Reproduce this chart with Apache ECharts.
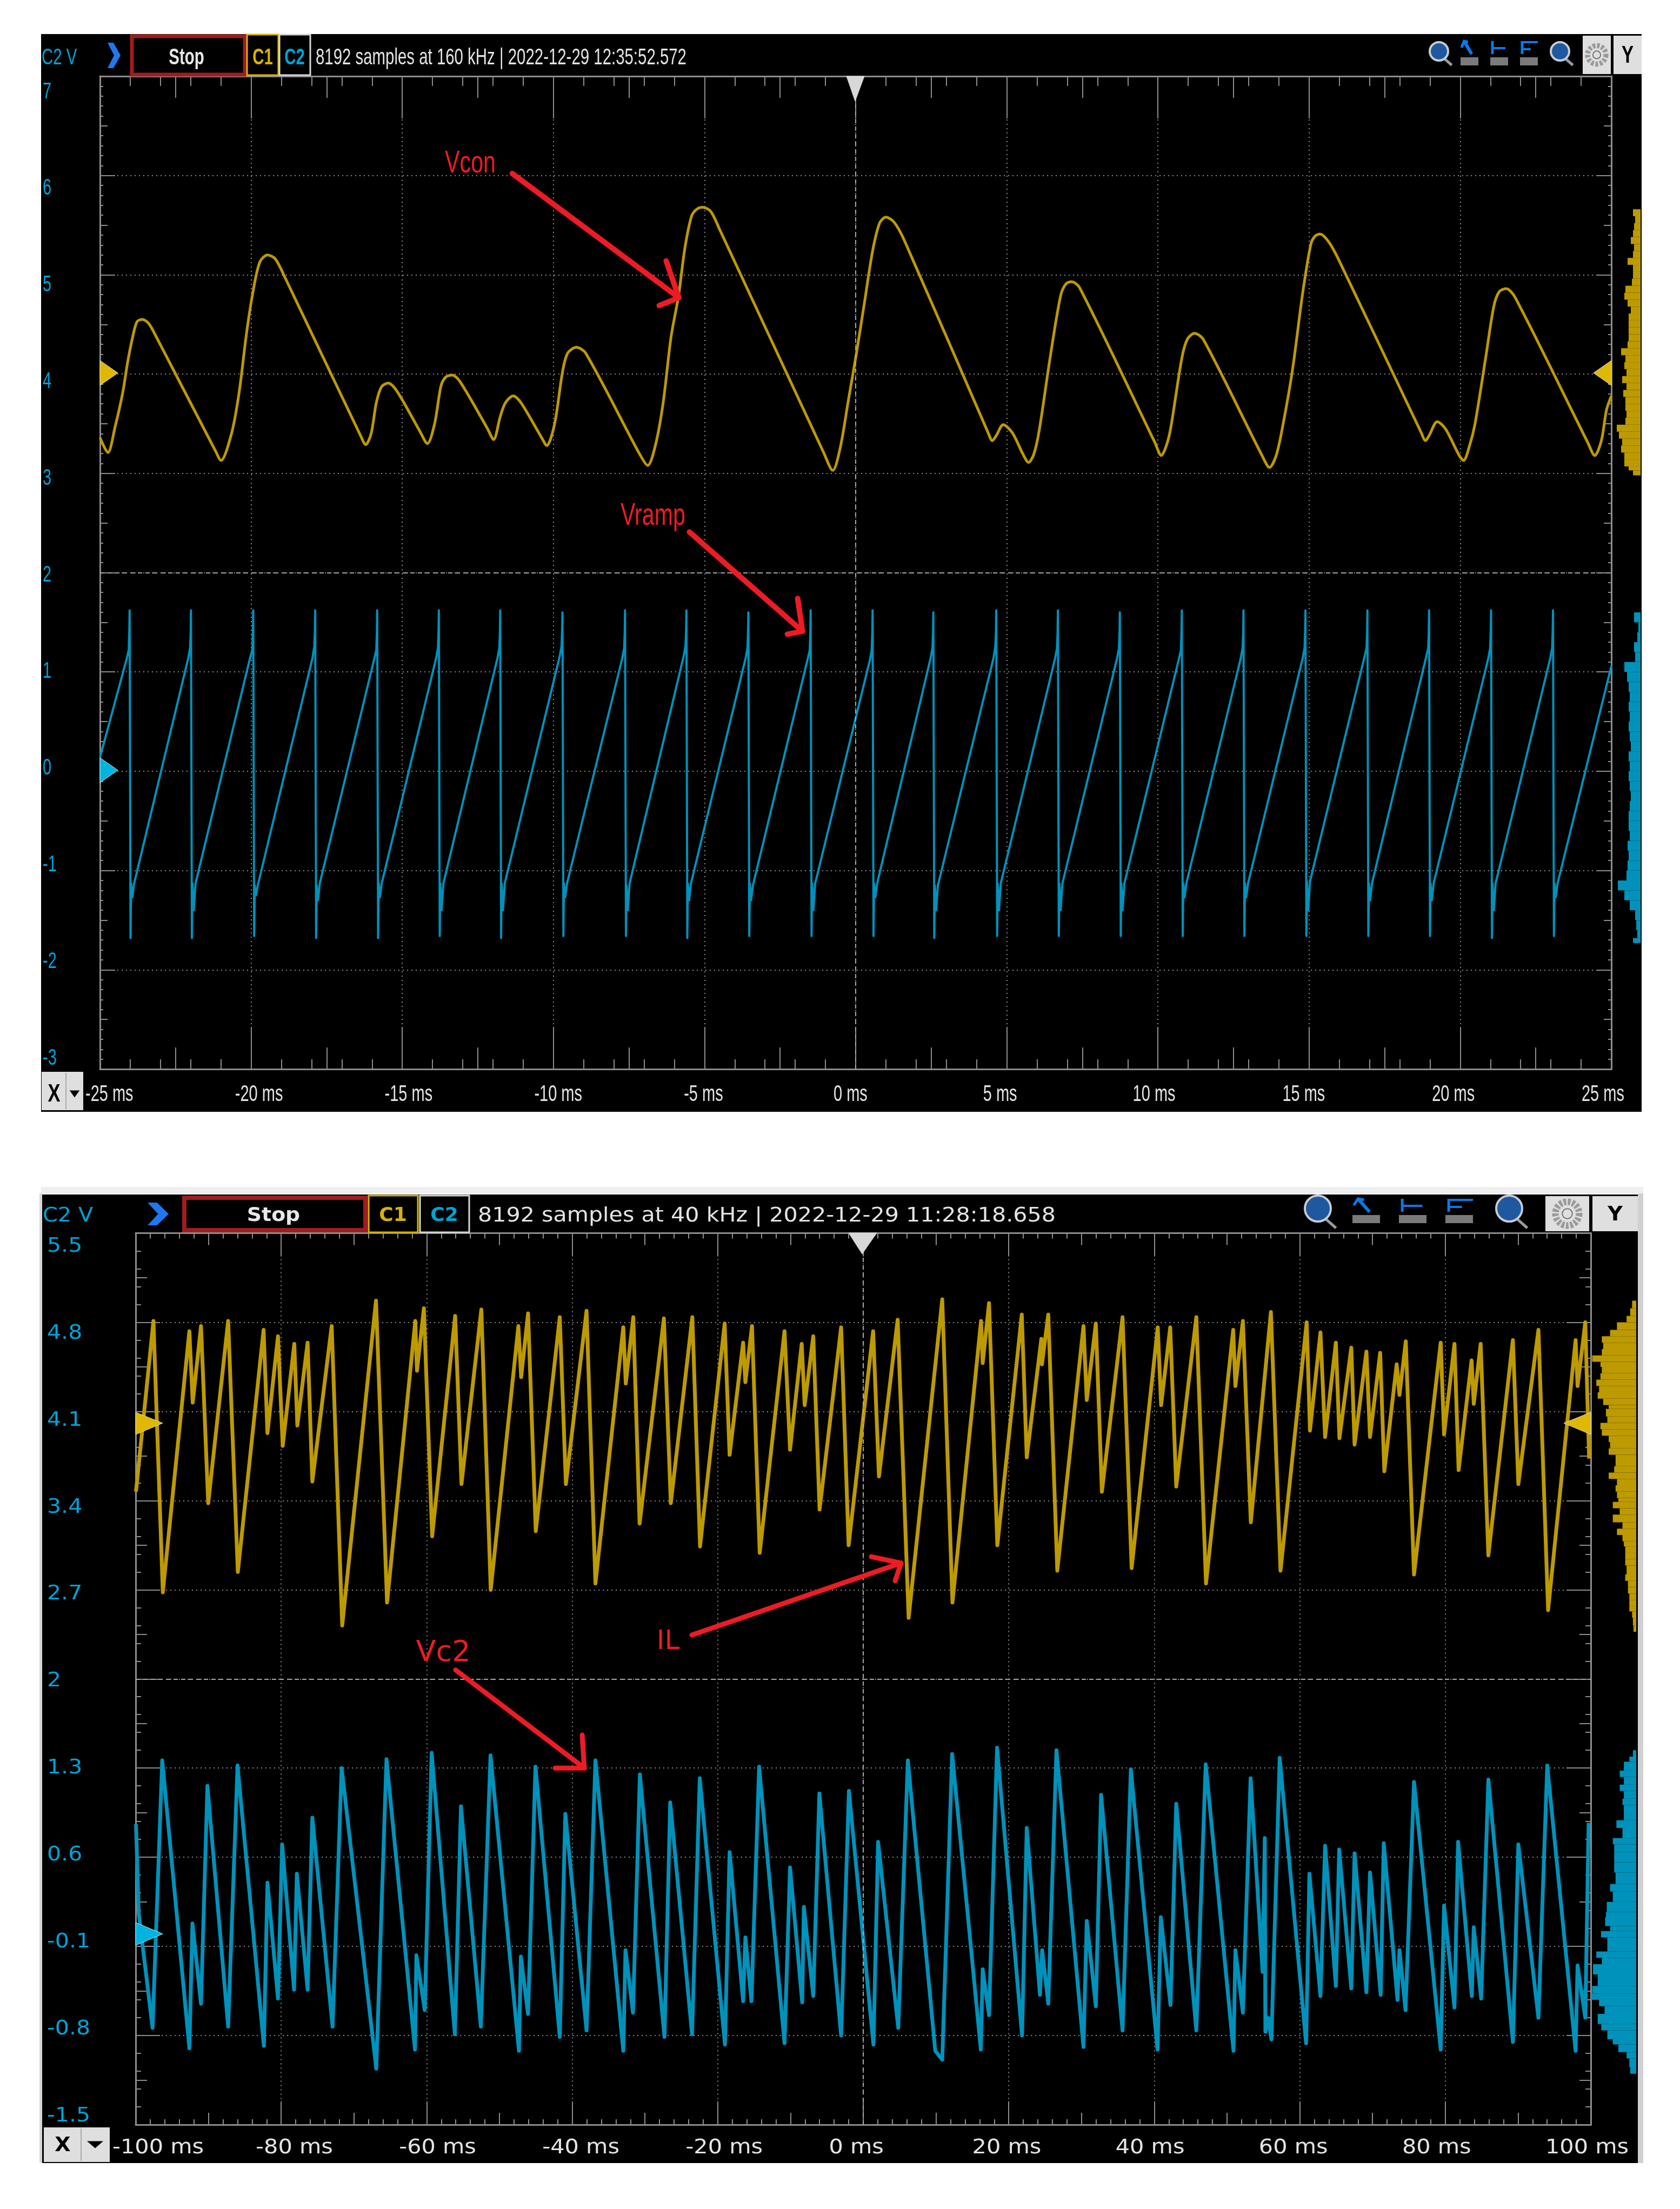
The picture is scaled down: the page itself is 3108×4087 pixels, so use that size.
<!DOCTYPE html>
<html><head><meta charset="utf-8">
<style>html,body{margin:0;padding:0;background:#fff}#c{width:3108px;height:4087px}</style>
<script src="https://cdn.jsdelivr.net/npm/echarts@6/dist/echarts.min.js"></script>
</head><body><div id="c"></div>
<script>
// ---------- values ----------
const topXLabels=['-25','-20','-15','-10','-5','0','5','10','15','20','25'];
const topYLabels=['7','6','5','4','3','2','1','0','-1','-2','-3'];
const botXLabels=['-100','-80','-60','-40','-20','0','20','40','60','80','100'];
const botYLabels=['5.5','4.8','4.1','3.4','2.7','2','1.3','0.6','-0.1','-0.8','-1.5'];

const vconPoints=[[-25,3.36],[-24.74,3.21],[-24.5,3.47],[-24.25,3.81],[-24.08,4.13],[-23.9,4.4],[-23.77,4.53],[-23.6,4.55],[-23.39,4.51],[-23.13,4.37],[-21.17,3.22],[-21,3.13],[-20.65,3.4],[-20.4,3.81],[-20.14,4.44],[-19.92,4.86],[-19.71,5.13],[-19.46,5.2],[-19.2,5.16],[-18.86,4.96],[-16.38,3.38],[-16.21,3.29],[-16.03,3.4],[-15.86,3.71],[-15.69,3.87],[-15.47,3.91],[-15.18,3.83],[-14.41,3.42],[-14.17,3.3],[-13.93,3.5],[-13.72,3.88],[-13.56,3.97],[-13.35,3.99],[-13.08,3.92],[-12.18,3.45],[-11.98,3.34],[-11.76,3.57],[-11.59,3.71],[-11.33,3.78],[-11.07,3.71],[-10.39,3.36],[-10.22,3.28],[-9.96,3.5],[-9.7,4.02],[-9.53,4.21],[-9.24,4.27],[-8.93,4.21],[-7.14,3.19],[-6.88,3.08],[-6.62,3.29],[-6.37,3.71],[-6.11,4.37],[-5.86,4.79],[-5.65,5.27],[-5.43,5.59],[-5.26,5.66],[-5.07,5.68],[-4.8,5.64],[-4.49,5.45],[-1.06,3.21],[-0.76,3.03],[-0.51,3.26],[-0.24,3.74],[0.02,4.2],[0.29,4.72],[0.56,5.24],[0.79,5.52],[1,5.58],[1.27,5.53],[1.62,5.34],[4.38,3.41],[4.52,3.33],[4.65,3.38],[4.88,3.49],[5.18,3.41],[5.54,3.19],[5.72,3.11],[5.89,3.19],[6.07,3.43],[6.43,4.16],[6.78,4.79],[6.96,4.91],[7.14,4.93],[7.41,4.87],[9.9,3.31],[10.11,3.18],[10.29,3.29],[10.43,3.47],[10.79,4.16],[10.97,4.35],[11.21,4.41],[11.5,4.35],[13.46,3.17],[13.69,3.06],[13.9,3.17],[14.08,3.4],[14.44,4.02],[14.79,4.82],[15.06,5.31],[15.2,5.39],[15.36,5.41],[15.63,5.34],[15.95,5.17],[18.71,3.41],[18.85,3.33],[18.97,3.38],[19.24,3.52],[19.51,3.45],[19.95,3.19],[20.11,3.13],[20.31,3.28],[20.49,3.5],[20.84,4.16],[21.11,4.68],[21.29,4.83],[21.52,4.86],[21.82,4.77],[24.22,3.31],[24.45,3.18],[24.67,3.33],[24.84,3.64],[25,3.78]];

const rampTimes=[-25,
-24.11,-24.05,-24.03,-24.02,-23.99,-23.97,-23.93,-23.87,
-22.08,-22.02,-22.00,-21.99,-21.96,-21.94,-21.90,-21.84,
-20.02,-19.96,-19.94,-19.93,-19.90,-19.88,-19.84,-19.78,
-17.97,-17.91,-17.89,-17.88,-17.85,-17.83,-17.79,-17.73,
-15.92,-15.86,-15.84,-15.83,-15.80,-15.78,-15.74,-15.68,
-13.88,-13.82,-13.80,-13.79,-13.76,-13.74,-13.70,-13.64,
-11.85,-11.79,-11.77,-11.76,-11.73,-11.71,-11.67,-11.61,
-9.79,-9.73,-9.71,-9.70,-9.67,-9.65,-9.61,-9.55,
-7.72,-7.66,-7.64,-7.63,-7.60,-7.58,-7.54,-7.48,
-5.69,-5.63,-5.61,-5.60,-5.57,-5.55,-5.51,-5.45,
-3.64,-3.58,-3.56,-3.55,-3.52,-3.50,-3.46,-3.40,
-1.58,-1.52,-1.50,-1.49,-1.46,-1.44,-1.40,-1.34,
0.47,0.53,0.55,0.56,0.59,0.61,0.65,0.71,
2.48,2.54,2.56,2.57,2.60,2.62,2.66,2.72,
4.56,4.62,4.64,4.65,4.68,4.70,4.74,4.80,
6.60,6.66,6.68,6.69,6.72,6.74,6.78,6.84,
8.65,8.71,8.73,8.74,8.77,8.79,8.83,8.89,
10.70,10.76,10.78,10.79,10.82,10.84,10.88,10.94,
12.74,12.80,12.82,12.83,12.86,12.88,12.92,12.98,
14.79,14.85,14.87,14.88,14.91,14.93,14.97,15.03,
16.84,16.90,16.92,16.93,16.96,16.98,17.02,17.08,
18.88,18.94,18.96,18.97,19.00,19.02,19.06,19.12,
20.93,20.99,21.01,21.02,21.05,21.07,21.11,21.17,
22.98,23.04,23.06,23.07,23.10,23.12,23.16,23.22,
25];
const rampValues=[0.14,
1.14,1.22,1.42,1.62,-1.68,-1.13,-1.27,-1.13,
1.14,1.24,1.40,1.62,-1.68,-1.13,-1.40,-1.13,
1.16,1.22,1.42,1.62,-1.66,-1.15,-1.25,-1.15,
1.14,1.26,1.42,1.62,-1.68,-1.15,-1.30,-1.13,
1.14,1.22,1.40,1.62,-1.68,-1.13,-1.27,-1.13,
1.14,1.24,1.42,1.62,-1.66,-1.13,-1.40,-1.13,
1.14,1.24,1.40,1.62,-1.68,-1.13,-1.40,-1.13,
1.16,1.26,1.44,1.60,-1.66,-1.13,-1.27,-1.13,
1.14,1.24,1.40,1.62,-1.66,-1.15,-1.40,-1.13,
1.16,1.26,1.42,1.62,-1.68,-1.13,-1.30,-1.13,
1.14,1.24,1.42,1.60,-1.66,-1.13,-1.30,-1.15,
1.14,1.22,1.40,1.62,-1.66,-1.13,-1.40,-1.13,
1.12,1.22,1.40,1.62,-1.66,-1.13,-1.27,-1.13,
1.14,1.24,1.40,1.60,-1.68,-1.15,-1.40,-1.15,
1.14,1.26,1.40,1.62,-1.66,-1.13,-1.40,-1.13,
1.14,1.24,1.40,1.62,-1.66,-1.13,-1.40,-1.13,
1.14,1.24,1.40,1.60,-1.66,-1.13,-1.40,-1.13,
1.14,1.22,1.42,1.62,-1.66,-1.13,-1.27,-1.13,
1.14,1.24,1.40,1.62,-1.66,-1.13,-1.27,-1.13,
1.14,1.24,1.42,1.62,-1.66,-1.11,-1.40,-1.11,
1.16,1.24,1.40,1.62,-1.66,-1.13,-1.30,-1.13,
1.16,1.24,1.40,1.62,-1.66,-1.13,-1.30,-1.13,
1.14,1.24,1.42,1.62,-1.68,-1.13,-1.40,-1.13,
1.14,1.24,1.42,1.62,-1.66,-1.13,-1.27,-1.13,
1.06];

const ilPoints=[[-99.96,3.47],[-97.56,4.81],[-96.27,2.68],[-92.62,4.73],[-92.16,4.17],[-91.02,4.77],[-90.03,3.38],[-87.29,4.81],[-85.96,2.84],[-82.42,4.74],[-81.89,3.93],[-80.44,4.69],[-79.79,3.83],[-78.2,4.63],[-77.78,3.99],[-76.37,4.64],[-75.72,3.55],[-73.06,4.77],[-71.61,2.42],[-66.97,4.97],[-65.45,2.6],[-61.57,4.81],[-61.34,4.42],[-60.39,4.91],[-59.25,3.12],[-56.09,4.85],[-55.22,3.53],[-52.49,4.9],[-51.2,2.7],[-47.4,4.77],[-47.02,4.37],[-46.07,4.87],[-45.01,3.16],[-41.71,4.84],[-40.87,3.53],[-38.03,4.89],[-36.81,2.75],[-32.98,4.76],[-32.64,4.32],[-31.61,4.84],[-30.74,3.22],[-27.4,4.83],[-26.45,3.38],[-23.49,4.84],[-22.43,3.04],[-19.05,4.79],[-18.37,3.76],[-16.51,4.64],[-16.2,4.33],[-15.29,4.77],[-14.23,2.99],[-10.82,4.73],[-10.06,3.8],[-8.46,4.63],[-8.05,4.15],[-6.87,4.69],[-6,3.33],[-3.04,4.76],[-2.01,3.05],[1.36,4.73],[2.16,3.59],[4.73,4.82],[6.24,2.48],[10.86,4.98],[12.26,2.6],[16.19,4.81],[16.42,4.48],[17.29,4.95],[18.43,3.05],[21.79,4.86],[22.47,3.74],[24.48,4.67],[24.56,4.47],[25.43,4.86],[26.67,2.85],[30.27,4.77],[30.72,4.19],[31.97,4.79],[32.8,3.47],[35.64,4.84],[36.89,2.87],[40.48,4.76],[40.94,4.15],[42.19,4.76],[43.02,3.51],[45.78,4.84],[47.11,2.75],[50.85,4.74],[51.15,4.3],[52.18,4.81],[53.27,3.23],[56.03,4.88],[57.35,2.85],[60.95,4.8],[61.4,3.95],[62.84,4.72],[63.48,3.9],[64.96,4.64],[65.45,3.89],[67.08,4.6],[67.53,3.84],[69.16,4.57],[69.65,3.9],[71.05,4.56],[71.62,3.63],[73.32,4.47],[73.7,4.23],[74.57,4.65],[75.7,2.82],[79.37,4.64],[79.83,3.92],[81.26,4.63],[81.83,3.64],[83.61,4.5],[83.91,4.16],[84.86,4.63],[85.92,2.97],[89.29,4.66],[90.04,3.53],[92.8,4.74],[94.13,2.54],[97.91,4.66],[98.18,4.3],[99.24,4.8],[99.54,4.18],[99.77,3.73]];

const vc2Points=[[-99.96,0.86],[-99.58,0.16],[-97.68,-0.74],[-96.35,1.36],[-92.62,-0.9],[-92.2,0.08],[-91.02,-0.55],[-90.14,1.16],[-87.29,-0.73],[-86,1.32],[-82.38,-0.88],[-81.89,0.4],[-80.44,-0.51],[-79.87,0.7],[-78.23,-0.44],[-77.85,0.47],[-76.37,-0.44],[-75.72,0.91],[-72.94,-0.73],[-71.69,1.3],[-66.93,-1.06],[-65.53,1.37],[-61.61,-0.91],[-61.42,-0.17],[-60.27,-0.6],[-59.32,1.42],[-56.13,-0.79],[-55.29,1],[-52.56,-0.73],[-51.23,1.4],[-47.32,-0.92],[-47.06,-0.18],[-46.07,-0.63],[-45.05,1.31],[-41.71,-0.81],[-40.95,0.94],[-38.03,-0.76],[-36.81,1.36],[-32.98,-0.92],[-32.68,-0.13],[-31.65,-0.62],[-30.7,1.25],[-27.32,-0.81],[-26.53,1.03],[-23.53,-0.79],[-22.47,1.22],[-19.01,-0.87],[-18.37,0.64],[-16.51,-0.53],[-16.2,-0.03],[-15.37,-0.53],[-14.31,1.31],[-10.82,-0.86],[-10.06,0.52],[-8.39,-0.54],[-8.16,0.21],[-6.87,-0.49],[-6.03,1.1],[-3.04,-0.8],[-1.97,1.12],[1.4,-0.87],[2.04,0.72],[4.81,-0.74],[6.13,1.36],[9.9,-0.92],[10.86,-0.99],[12.22,1.41],[16.16,-0.91],[16.42,-0.28],[17.29,-0.64],[18.39,1.46],[21.83,-0.8],[22.47,0.83],[24.29,-0.48],[24.59,-0.13],[25.43,-0.55],[26.56,1.44],[30.27,-0.89],[30.72,0.1],[31.97,-0.57],[32.69,1.09],[35.64,-0.76],[36.78,1.29],[40.45,-0.91],[40.9,0.13],[42.23,-0.56],[43.02,1.02],[45.78,-0.76],[47.07,1.33],[50.89,-0.92],[51.15,-0.13],[52.18,-0.62],[53.24,1.22],[54.89,-0.3],[55.19,0.75],[55.27,-0.77],[55.65,-0.66],[56.1,-0.83],[57.24,1.38],[60.87,-0.86],[61.32,0.47],[62.84,-0.49],[63.48,0.69],[64.96,-0.41],[65.41,0.66],[67.08,-0.43],[67.53,0.63],[69.16,-0.46],[69.65,0.48],[71.12,-0.48],[71.54,0.71],[73.43,-0.52],[73.7,-0.13],[74.53,-0.6],[75.7,1.19],[79.37,-0.91],[79.83,0.22],[81.26,-0.58],[81.76,0.72],[83.65,-0.49],[83.91,0.05],[84.93,-0.51],[85.92,1.21],[89.29,-0.85],[90.04,0.7],[92.8,-0.66],[94.01,1.32],[97.91,-0.92],[98.18,-0.25],[99.24,-0.66],[99.7,0.87]];

// histograms at the right edge: level (V) and bar length
const histTopYellowV=[5.66,5.59,5.52,5.45,5.38,5.31,5.24,5.17,5.10,5.03,4.96,4.89,4.82,4.75,4.68,4.61,4.54,4.47,4.40,4.33,4.26,4.19,4.12,4.05,3.98,3.91,3.84,3.77,3.70,3.63,3.56,3.49,3.42,3.35,3.28,3.21,3.14,3.07,3.03];
const histTopYellowN=[14,10,12,14,18,12,14,24,14,14,16,28,30,24,18,22,22,22,22,24,36,28,30,26,34,26,32,28,28,26,28,44,40,34,36,30,30,22,14];
const histTopBlueV=[1.6,1.5,1.4,1.3,1.2,1.1,1.0,0.9,0.8,0.7,0.6,0.5,0.4,0.3,0.2,0.1,0,-0.1,-0.2,-0.3,-0.4,-0.5,-0.6,-0.7,-0.8,-0.9,-1.0,-1.1,-1.2,-1.3,-1.4,-1.5,-1.6,-1.68];
const histTopBlueN=[12,4,6,12,10,30,25,22,20,22,20,22,20,18,22,20,22,20,18,20,22,22,20,24,22,24,26,42,30,20,10,8,6,14];
const histBotYellowV=[4.97,4.91,4.85,4.80,4.74,4.69,4.64,4.59,4.54,4.49,4.45,4.40,4.35,4.30,4.25,4.20,4.15,4.12,4.06,4.01,3.96,3.91,3.86,3.81,3.76,3.72,3.67,3.62,3.57,3.52,3.47,3.42,3.39,3.34,3.29,3.23,3.18,3.13,3.08,3.04,2.99,2.94,2.89,2.82,2.77,2.72,2.67,2.62,2.57,2.53,2.48,2.42];
const histBotYellowN=[15,22,35,70,95,125,120,125,160,130,125,130,145,135,140,120,100,110,105,130,125,100,95,100,75,75,80,100,70,75,70,65,85,60,85,50,70,50,45,40,40,40,35,40,30,30,25,25,25,15,12,10];
const histBotBlueV=[1.44,1.39,1.35,1.28,1.23,1.17,1.12,1.06,1.01,0.94,0.89,0.83,0.75,0.70,0.64,0.56,0.48,0.39,0.33,0.25,0.17,0.13,0.06,0.02,-0.03,-0.14,-0.19,-0.24,-0.32,-0.41,-0.47,-0.52,-0.57,-0.63,-0.71,-0.76,-0.83,-0.87,-0.93,-0.98,-1.05];
const histBotBlueN=[12,25,45,60,45,60,45,50,45,45,72,50,85,80,80,80,75,95,85,107,110,113,95,128,105,145,125,157,140,160,163,135,115,140,127,105,85,65,35,25,22];

// annotation arrows (ms, V)
const arrowVcon=[[-11.36,6.02],[-5.85,4.77]], headVcon=[[-6.27,5.14],[-5.85,4.77],[-6.5,4.69]];
const arrowVramp=[[-5.5,2.41],[-1.76,1.41]], headVramp=[[-1.92,1.74],[-1.76,1.41],[-2.26,1.38]];
const arrowIL=[[-23.55,2.345],[5.2,2.91]], headIL=[[1.11,2.96],[5.2,2.91],[4.38,2.77]];
const arrowVc2=[[-56.02,2.07],[-38.34,1.30]], headVc2=[[-38.63,1.56],[-38.34,1.30],[-42.35,1.30]];

// ---------- style ----------
const YEL='#BD9A00', BLU='#0092BB', GR='#8c8c8c', CY='#00A3D6', RED='#ED1C24', TXT='#E4E4E4';
const NAR='"Liberation Sans",sans-serif';
const WID='"DejaVu Sans",sans-serif';

const grids=[], xAxes=[], yAxes=[], series=[];
function addGrid(rect,xs,ys){const g=grids.length;grids.push(rect);
  const xi=xAxes.length, yi=yAxes.length;
  xs.forEach(o=>xAxes.push(Object.assign({gridIndex:g,type:'value'},o)));
  ys.forEach(o=>yAxes.push(Object.assign({gridIndex:g,type:'value'},o)));
  return {xi,yi};}
const dots=(w)=>({show:true,lineStyle:{color:'#8a8a8a',width:w,type:[2,6]}});
function ax(pos,min,max,interval,len,minorN,minorLen,grid,line){
  return {position:pos,min,max,interval,silent:true,
    axisLine:{show:!!line,onZero:false,lineStyle:{color:GR,width:3}},
    axisTick:{show:true,inside:true,length:len,lineStyle:{color:GR,width:2}},
    minorTick:{show:!!minorN,splitNumber:minorN||5,length:minorLen||0,lineStyle:{color:GR,width:2}},
    axisLabel:{show:false},splitLine:grid?dots(2):{show:false},minorSplitLine:{show:false}};
}
function hidden(min,max,inv){return {show:false,min,max,inverse:!!inv,silent:true,splitLine:{show:false}};}

function panel(p){
  const rect={left:p.l,top:p.t,width:p.r-p.l,height:p.b-p.t,containLabel:false};
  const main=addGrid(rect,
    [ax('bottom',p.xMin,p.xMax,p.xMaj,p.xLen[0],p.xMinor,p.xLen[2],true,true),
     ax('top',p.xMin,p.xMax,p.xMaj,p.xLen[0],p.xMinor,p.xLen[2],false,true)],
    [ax('left',p.yMin,p.yMax,p.yMaj,p.yLen[0],p.yMinor,p.yLen[2],true,true),
     ax('right',p.yMin,p.yMax,p.yMaj,p.yLen[0],p.yMinor,p.yLen[2],false,true)]);
  addGrid(rect,
    [ax('bottom',p.xMin,p.xMax,p.xMid,p.xLen[1]),ax('top',p.xMin,p.xMax,p.xMid,p.xLen[1])],
    [ax('left',p.yMin,p.yMax,p.yMid,p.yLen[1]),ax('right',p.yMin,p.yMax,p.yMid,p.yLen[1])]);
  // tick-label grid: the scope left-aligns its x labels and sets its labels on a tighter pitch than the grid
  const lg=addGrid({left:p.lab.l,top:p.lab.t,width:p.lab.r-p.lab.l,height:p.lab.b-p.lab.t},
    [hidden(p.xMin,p.xMax)],[hidden(p.yMin,p.yMax)]);
  const labelSeries=(labels,isX,sx,fill,font,fixed,suffix)=>({type:'custom',xAxisIndex:lg.xi,yAxisIndex:lg.yi,coordinateSystem:'cartesian2d',
    data:labels.map(s=>isX?[Number(s),p.yMin]:[p.xMin,Number(s)]),silent:true,animation:false,clip:false,z:8,
    encode:{x:0,y:1},
    renderItem:(params,api)=>{const c=api.coord([api.value(0),api.value(1)]);
      return {type:'text',x:isX?c[0]:fixed,y:isX?fixed:c[1],scaleX:sx,
        style:{text:labels[params.dataIndex]+suffix,font,fill,textAlign:'left',textVerticalAlign:'middle'}};}});
  series.push(labelSeries(p.xLabels,true,p.xScale,TXT,p.xFont,p.lab.xy,' ms'));
  series.push(labelSeries(p.yLabels,false,p.yScale,CY,p.yFont,p.lab.yx,''));
  const line=(data,color,w,smooth)=>({type:'line',xAxisIndex:main.xi,yAxisIndex:main.yi,data,color,symbol:'none',showSymbol:false,silent:true,animation:false,smooth:smooth||false,
    lineStyle:{color,width:w,join:'round'},clip:true,z:3});
  p.traces.forEach(t=>series.push(line(t.data,t.color,t.w,t.smooth)));
  p.arrows.forEach(a=>series.push(Object.assign(line(a,RED,p.arrowW),{z:6,lineStyle:{color:RED,width:p.arrowW,cap:'round',join:'round'},clip:false})));
  // centre lines
  series.push({type:'line',xAxisIndex:main.xi,yAxisIndex:main.yi,data:[],silent:true,animation:false,z:1,
    markLine:{silent:true,animation:false,symbol:'none',label:{show:false},lineStyle:{color:'#a8a8a8',width:2,type:[8,6]},
      data:[{xAxis:0},{yAxis:p.yCentre}]}});
  // histograms
  const h=addGrid({left:p.r,top:p.t,width:p.histR-p.r,height:p.b-p.t},[hidden(0,p.histMax,true)],[hidden(p.yMin,p.yMax)]);
  p.hists.forEach(hh=>{
    const data=hh.v.map((v,i)=>[v,hh.n[i],i+1<hh.v.length?hh.v[i+1]:v-0.05]);
    series.push({type:'custom',xAxisIndex:h.xi,yAxisIndex:h.yi,coordinateSystem:'cartesian2d',data,silent:true,animation:false,clip:false,z:3,
      encode:{x:1,y:0},
      renderItem:(params,api)=>{const a=api.coord([api.value(1),api.value(0)]),b=api.coord([0,api.value(2)]);
        return {type:'rect',shape:{x:a[0],y:a[1],width:b[0]-a[0],height:b[1]-a[1]},style:{fill:hh.color}};}});
  });
}

panel({l:185,r:2981,t:141,b:1978,xMin:-25,xMax:25,xMaj:5,xMid:2.5,xMinor:5,xLen:[78,40,18],
  yMin:-3,yMax:7,yMaj:1,yMid:0.5,yMinor:10,yLen:[28,14,6],yCentre:2,
  xLabels:topXLabels,yLabels:topYLabels,
  lab:{l:158,r:2926,t:170,b:1958,xy:2025,yx:79},xFont:'42px '+NAR,yFont:'42px '+NAR,xScale:0.69,yScale:0.69,arrowW:10,histR:3035,histMax:54,
  traces:[{data:vconPoints,color:YEL,w:5,smooth:0.3},{data:rampTimes.map((t,i)=>[t,rampValues[i]]),color:BLU,w:4}],
  arrows:[arrowVcon,headVcon,arrowVramp,headVramp],
  hists:[{v:histTopYellowV,n:histTopYellowN,color:YEL},{v:histTopBlueV,n:histTopBlueN,color:BLU}]});
panel({l:251,r:2943,t:2281.5,b:3931,xMin:-100,xMax:100,xMaj:20,xMid:10,xMinor:10,xLen:[43,22,10],
  yMin:-1.5,yMax:5.5,yMaj:0.7,yMid:0.35,yMinor:5,yLen:[45,21,10],yCentre:2,
  xLabels:botXLabels,yLabels:botYLabels,
  lab:{l:208,r:2859,t:2306,b:3915,xy:3974,yx:87},xFont:'38px '+WID,yFont:'38px '+WID,xScale:1.09,yScale:1.08,arrowW:9,histR:3027,histMax:165,
  traces:[{data:ilPoints,color:YEL,w:7},{data:vc2Points,color:BLU,w:7}],
  arrows:[arrowIL,headIL,arrowVc2,headVc2],
  hists:[{v:histBotYellowV,n:histBotYellowN,color:YEL},{v:histBotBlueV,n:histBotBlueN,color:BLU}]});

// ---------- scope chrome ----------
const g=[];
const R=(x,y,w,h,fill,stroke,lw,z)=>g.push({type:'rect',silent:true,z:z===undefined?-5:z,shape:{x,y,width:w,height:h},style:{fill:fill||'none',stroke:stroke||'none',lineWidth:lw||0}});
const T=(text,x,y,font,fill,align,sx)=>g.push({type:'text',silent:true,z:20,x,y,scaleX:sx||1,style:{text,font,fill,textAlign:align||'center',textVerticalAlign:'middle'}});
const P=(pts,fill,z)=>g.push({type:'polygon',silent:true,z:z||20,shape:{points:pts},style:{fill,stroke:'#d8d8d8',lineWidth:1}});
const L=(pts,stroke,lw,z)=>g.push({type:'polyline',silent:true,z:z||20,shape:{points:pts},style:{stroke,lineWidth:lw,fill:'none'}});
const C=(cx,cy,r,fill,stroke,lw,z)=>g.push({type:'circle',silent:true,z:z||20,shape:{cx,cy,r},style:{fill,stroke,lineWidth:lw}});
function mag(x,y,r){L([[x+r*0.6,y+r*0.8],[x+r*1.4,y+r*1.5]],'#9a9a9a',5);C(x,y,r,'#2058A0','#c4ccd4',4);}
function chevron(x,y,w,h){g.push({type:'polygon',silent:true,z:20,shape:{points:[[x,y],[x+w*0.45,y],[x+w,y+h/2],[x+w*0.45,y+h],[x,y+h],[x+w*0.5,y+h/2]]},style:{fill:'#1F78F0'}});}
function toolIcons(o){
  mag(o.m1,o.cy,o.r);
  const bars=[o.a,o.b,o.c];
  bars.forEach(x=>R(x,o.barY,o.barW,o.barH,'#7a7a7a','none',0,20));
  L([[o.a+o.barW*0.62,o.barY-6],[o.a+o.barW*0.2,o.topY]],'#0A7AE8',6);
  L([[o.a+o.barW*0.05,o.topY+12],[o.a+o.barW*0.2,o.topY],[o.a+o.barW*0.42,o.topY+2]],'#0A7AE8',5);
  L([[o.b+o.barW*0.12,o.topY],[o.b+o.barW*0.12,o.barY-6]],'#0A7AE8',5);
  L([[o.b+o.barW*0.12,(o.topY+o.barY)/2-2],[o.b+o.barW*0.85,(o.topY+o.barY)/2-2]],'#0A7AE8',4);
  L([[o.c+o.barW*0.12,o.topY],[o.c+o.barW*0.12,o.barY-6]],'#0A7AE8',5);
  L([[o.c+o.barW*0.12,o.topY+2],[o.c+o.barW,o.topY+2]],'#0A7AE8',4);
  L([[o.c+o.barW*0.12,(o.topY+o.barY)/2],[o.c+o.barW*0.6,(o.topY+o.barY)/2]],'#0A7AE8',4);
  mag(o.m2,o.cy,o.r);
  R(o.gx,o.gy,o.gw,o.gh,'#DFDFDF','none',0,20);
  g.push({type:'circle',silent:true,z:21,shape:{cx:o.gx+o.gw/2,cy:o.gy+o.gh/2,r:o.gr},style:{fill:'none',stroke:'#9a9a9a',lineWidth:o.gr*0.55,lineDash:[5,3]}});
  C(o.gx+o.gw/2,o.gy+o.gh/2,o.gr*0.42,'#DFDFDF','#777',2,22);
  R(o.yx,o.gy,o.yw,o.gh,'#DFDFDF','none',0,20);
}
// top panel
R(76,63,2961,1994,'#000');
T('C2 V',77,107,'42px '+NAR,CY,'left',0.7);
chevron(199,79,24,47);
R(244,67,209,71,'#000','#A01C20',7,20);
T('Stop',345,107,'bold 42px '+NAR,'#E8E8E8','center',0.7);
R(457,64,58,75,'#000','#D8B400',3,20);
T('C1',486,107,'bold 42px '+NAR,'#D8B400','center',0.7);
R(517,64,57,75,'#000','#D8D8D8',3,20);
T('C2',545,107,'bold 42px '+NAR,CY,'center',0.7);
T('8192 samples at 160 kHz | 2022-12-29 12:35:52.572',584,107,'42px '+NAR,TXT,'left',0.7);
toolIcons({m1:2662,m2:2886,cy:95,r:17,a:2702,b:2757,c:2812,barW:33,barY:106,barH:15,topY:76,gx:2928,gy:66,gw:52,gh:71,gr:17,yx:2985,yw:52});
T('Y',3011,104,'bold 44px '+NAR,'#000','center',0.75);
R(77,1983,77,71,'#DFDFDF');
g[g.length-1].z=20;
T('X',100,2025,'bold 46px '+NAR,'#000','center',0.75);
L([[122,1985],[122,2052]],'#aaa',2);
P([[128,2017],[148,2017],[138,2031]],'#000');
P([[185,667],[218,690],[185,713]],'#E0B800');
P([[2981,667],[2948,690],[2981,713]],'#E0B800');
P([[185,1402],[218,1425],[185,1448]],'#00B4E0');
P([[1566,141],[1599,141],[1582,187]],'#D8D8D8');
T('Vcon',870,303,'58px '+NAR,RED,'center',0.71);
T('Vramp',1208,955,'58px '+NAR,RED,'center',0.71);

// bottom panel
R(76,2196,2964,12,'#EFEFEF');
R(73,2208,5,1794,'#D8D8D8');
R(3030,2208,10,1794,'#D0D0D0');
R(78,2210,2952,1792,'#000');
T('C2 V',79,2250,'38px '+WID,CY,'left',1.05);
chevron(273,2225,39,42);
R(341,2216,335,60,'#000','#A01C20',8,20);
T('Stop',506,2250,'bold 36px '+WID,'#E8E8E8','center',1.05);
R(682,2212,91,68,'#000','#D8B400',3,20);
T('C1',727,2250,'bold 36px '+WID,'#D8B400');
R(777,2212,91,68,'#000','#D8D8D8',3,20);
T('C2',822,2250,'bold 36px '+WID,CY);
T('8192 samples at 40 kHz | 2022-12-29 11:28:18.658',884,2250,'38px '+WID,TXT,'left',1.085);
toolIcons({m1:2438,m2:2792,cy:2236,r:24,a:2502,b:2588,c:2674,barW:51,barY:2248,barH:15,topY:2218,gx:2859,gy:2213,gw:81,gh:65,gr:22,yx:2946,yw:84});
T('Y',2988,2248,'bold 38px '+WID,'#000');
R(81,3936,122,64,'#DFDFDF');
g[g.length-1].z=20;
T('X',116,3970,'bold 38px '+WID,'#000');
L([[150,3938],[150,3998]],'#aaa',2);
P([[160,3961],[192,3961],[176,3975]],'#000');
P([[251,2613],[301,2633],[251,2654]],'#E0B800');
P([[2943,2613],[2893,2633],[2943,2654]],'#E0B800');
P([[251,3557],[301,3578],[251,3599]],'#00B4E0');
P([[1570,2281],[1622,2281],[1595,2320]],'#D8D8D8');
T('Vc2',820,3059,'54px '+WID,RED);
T('IL',1236,3038,'50px '+WID,RED);

const chart=echarts.init(document.getElementById('c'),null,{renderer:'canvas',width:3108,height:4087});
chart.setOption({animation:false,backgroundColor:'#fff',tooltip:{show:false},legend:{show:false},
  grid:grids,xAxis:xAxes,yAxis:yAxes,series,graphic:{elements:g}});
</script></body></html>
